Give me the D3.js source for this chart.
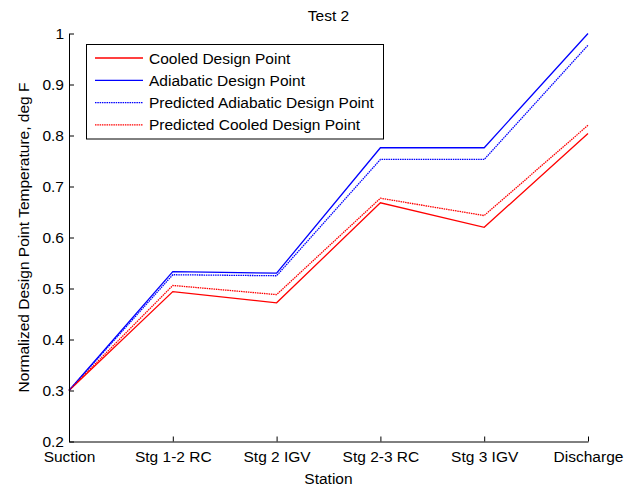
<!DOCTYPE html>
<html>
<head>
<meta charset="utf-8">
<script src="https://cdn.jsdelivr.net/npm/d3@7"></script>
<style>
  html, body { margin: 0; padding: 0; background: #fff; }
  svg { display: block; }
  text { font-family: "Liberation Sans", Arial, Helvetica, sans-serif; }
</style>
</head>
<body>
<svg id="chart" width="636" height="487"></svg>
<script>
// ---- data ----
const stations = ["Suction", "Stg 1-2 RC", "Stg 2 IGV", "Stg 2-3 RC", "Stg 3 IGV", "Discharge"];
const cooledDesign = [0.300, 0.494, 0.472, 0.668, 0.620, 0.804];
const adiabaticDesign = [0.300, 0.533, 0.530, 0.776, 0.776, 1.000];
const predictedAdiabatic = [0.300, 0.527, 0.525, 0.753, 0.753, 0.977];
const predictedCooled = [0.300, 0.506, 0.488, 0.677, 0.643, 0.820];
const yTicks = [0.2, 0.3, 0.4, 0.5, 0.6, 0.7, 0.8, 0.9, 1.0];
const yTickLabels = ["0.2", "0.3", "0.4", "0.5", "0.6", "0.7", "0.8", "0.9", "1"];

const seriesList = [
  { name: "Cooled Design Point", values: cooledDesign, color: "#ff0000", dash: null },
  { name: "Adiabatic Design Point", values: adiabaticDesign, color: "#0000ff", dash: null },
  { name: "Predicted Adiabatic Design Point", values: predictedAdiabatic, color: "#0000ff", dash: "1.5,0.8" },
  { name: "Predicted Cooled Design Point", values: predictedCooled, color: "#ff0000", dash: "1.5,0.8" }
];

// ---- layout ----
const svg = d3.select("#chart");
const plotL = 69, plotR = 588, plotT = 33.5, plotB = 441.5;
const fontSize = 15.5;

const x = d3.scalePoint().domain(stations).range([plotL, plotR]);
const y = d3.scaleLinear().domain([0.2, 1.0]).range([plotB, plotT]);

// lines
const line = d3.line().x((d, i) => x(stations[i])).y(d => y(d));
seriesList.forEach(s => {
  svg.append("path")
    .attr("d", line(s.values))
    .attr("fill", "none")
    .attr("stroke", s.color)
    .attr("stroke-width", 1.3)
    .attr("stroke-dasharray", s.dash)
    .attr("stroke-linejoin", "miter");
});

// axes
const xAxis = d3.axisBottom(x).tickSizeInner(-5).tickSizeOuter(0).tickPadding(9.5);
const gx = svg.append("g").attr("transform", `translate(0,${plotB})`).call(xAxis);
const yAxis = d3.axisLeft(y).tickValues(yTicks)
  .tickFormat((d, i) => yTickLabels[i]).tickSizeInner(-5).tickSizeOuter(0).tickPadding(5);
const gy = svg.append("g").attr("transform", `translate(${plotL},0)`).call(yAxis);

[gx, gy].forEach(g => {
  g.selectAll("path.domain").attr("stroke", "#000").attr("stroke-width", 1);
  g.selectAll(".tick line").attr("stroke", "#000").attr("stroke-width", 1);
  g.selectAll(".tick text").attr("fill", "#000")
    .style("font-size", fontSize + "px")
    .style("font-family", "'Liberation Sans', Arial, sans-serif");
});

// title and axis labels
svg.append("text").attr("x", (plotL + plotR) / 2).attr("y", 21)
  .attr("text-anchor", "middle").style("font-size", fontSize + "px").text("Test 2");
svg.append("text").attr("x", (plotL + plotR) / 2).attr("y", 484)
  .attr("text-anchor", "middle").style("font-size", fontSize + "px").text("Station");
svg.append("text")
  .attr("transform", `translate(29,${(plotT + plotB) / 2}) rotate(-90)`)
  .attr("text-anchor", "middle").style("font-size", fontSize + "px")
  .text("Normalized Design Point Temperature, deg F");

// legend
const lg = svg.append("g");
lg.append("rect").attr("x", 86.5).attr("y", 44.5).attr("width", 297).attr("height", 94.5)
  .attr("fill", "#fff").attr("stroke", "#000").attr("stroke-width", 1);
seriesList.forEach((s, i) => {
  const cy = 58 + i * 22.3;
  lg.append("line").attr("x1", 95).attr("x2", 143).attr("y1", cy).attr("y2", cy)
    .attr("stroke", s.color).attr("stroke-width", 1.3).attr("stroke-dasharray", s.dash);
  lg.append("text").attr("x", 149).attr("y", cy + 5.5)
    .style("font-size", fontSize + "px").text(s.name);
});
</script>
</body>
</html>
